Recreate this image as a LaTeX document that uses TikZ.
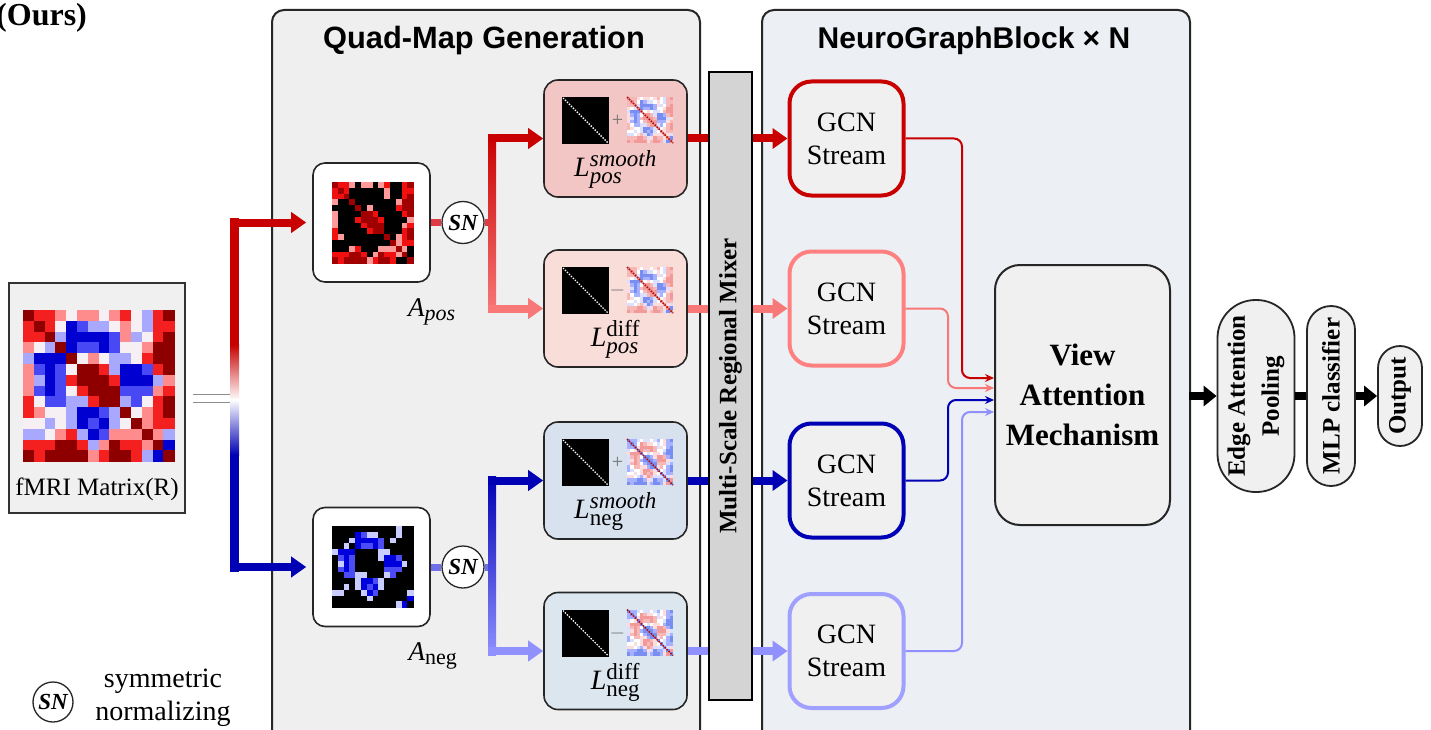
\documentclass[tikz,border=0pt]{standalone}
\usepackage{fix-cm}
\usepackage{fontspec}
\setmainfont{Liberation Serif}
\setsansfont{Liberation Sans}
\usetikzlibrary{arrows.meta}
% larger sub- and superscripts for the map labels
\DeclareMathSizes{27}{27}{22}{17}
\DeclareMathSizes{28}{28}{23}{17}

% stream colours
\definecolor{posdark}{HTML}{C80000}
\definecolor{posmid}{HTML}{E03A44}
\definecolor{poslight}{HTML}{F87878}
\definecolor{negdark}{HTML}{0000B4}
\definecolor{negmid}{HTML}{7070E8}
\definecolor{neglight}{HTML}{9090FF}
\definecolor{gcnposl}{HTML}{FF8080}
\definecolor{gcnnegl}{HTML}{A0A0FF}
% panels and boxes
\definecolor{quadbg}{HTML}{EFEFEF}
\definecolor{ngbbg}{HTML}{ECEFF3}
\definecolor{boxgray}{HTML}{F0F0F0}
\definecolor{mixgray}{HTML}{D4D4D4}
\definecolor{lpsfill}{HTML}{F2C6C4}
\definecolor{lpdfill}{HTML}{F8DDD8}
\definecolor{lnsfill}{HTML}{D8E2EE}
\definecolor{lndfill}{HTML}{DBE6EF}
\definecolor{diagred}{HTML}{B01010}
% heat-map palettes: a,b,c = strong..weak positive, w = zero, d,e,f = weak..strong negative
\definecolor{fma}{HTML}{8E0000}\definecolor{fmb}{HTML}{F42020}\definecolor{fmc}{HTML}{FF8C8C}
\definecolor{fmw}{HTML}{F6F0F4}\definecolor{fmd}{HTML}{A8A8FF}\definecolor{fme}{HTML}{4848F4}
\definecolor{fmf}{HTML}{0000D0}
\definecolor{apa}{HTML}{A00000}\definecolor{apb}{HTML}{F01010}\definecolor{apc}{HTML}{FF9A9A}
\definecolor{apw}{HTML}{000000}\definecolor{apd}{HTML}{000000}\definecolor{ape}{HTML}{000000}
\definecolor{apf}{HTML}{000000}
\definecolor{ana}{HTML}{000000}\definecolor{anb}{HTML}{000000}\definecolor{anc}{HTML}{000000}
\definecolor{anw}{HTML}{000000}\definecolor{and}{HTML}{C8CCFF}\definecolor{ane}{HTML}{4C4CF4}
\definecolor{anf}{HTML}{0000DC}
\definecolor{lpa}{HTML}{F29A9A}\definecolor{lpb}{HTML}{F7B8B8}\definecolor{lpc}{HTML}{FCDCDC}
\definecolor{lpw}{HTML}{FFFFFF}\definecolor{lpd}{HTML}{DCE0FF}\definecolor{lpe}{HTML}{A6B2FF}
\definecolor{lpf}{HTML}{7A8EF2}
\definecolor{lna}{HTML}{7A8EF2}\definecolor{lnb}{HTML}{A6B2FF}\definecolor{lnc}{HTML}{DCE0FF}
\definecolor{lnw}{HTML}{FFFFFF}\definecolor{lnd}{HTML}{FCDCDC}\definecolor{lne}{HTML}{F7B8B8}
\definecolor{lnf}{HTML}{F29A9A}

% 14 x 14 correlation pattern
\def\fmdata{%
{a,b,b,c,w,c,c,w,c,b,w,d,b,a},%
{b,a,b,w,f,e,d,d,w,c,w,d,b,b},%
{b,b,a,d,f,f,f,f,e,c,d,w,b,a},%
{c,w,d,a,f,e,e,f,e,w,w,c,a,a},%
{d,f,f,f,a,w,c,w,d,d,w,b,a,a},%
{c,e,f,e,w,a,a,b,d,f,f,e,b,a},%
{c,d,f,e,b,a,a,a,b,f,f,f,d,c},%
{c,e,f,e,w,b,a,a,a,e,e,e,c,b},%
{b,w,e,e,d,d,b,a,a,d,e,w,b,a},%
{b,c,w,w,d,f,f,e,d,a,w,c,b,a},%
{w,w,d,w,d,f,e,f,d,w,a,c,b,b},%
{d,d,w,c,b,d,f,e,c,c,c,a,c,d},%
{b,b,b,a,a,b,d,c,a,b,b,c,a,f},%
{a,b,a,a,a,a,c,b,a,a,b,d,f,a}}

% palette prefix, left x, top y, cell size
\newcommand\heatgrid[4]{%
  \foreach \hrow [count=\hi from 0] in \fmdata {%
    \foreach \hval [count=\hj from 0] in \hrow {%
      \fill[fill=#1\hval] ({#2+\hj*#4},{#3+\hi*#4}) rectangle ++({#4+0.3},{#4+0.3});
    }%
  }%
}

% contents of a Laplacian box: centre x, centre y, sign, palette, label, name
\newcommand\lcontent[6]{%
  \fill[black] ({#1-53.5},{#2-41.5}) rectangle ++(47,47);
  \draw[white, line width=1.4pt, dash pattern=on 1.4pt off 1.4pt] ({#1-52.5},{#2-40.5}) -- ({#1-7.5},{#2+4.5});
  \node[inner sep=0pt, font=\fontsize{20}{20}\selectfont, text=black!55] (#6-sign) at ({#1+2},{#2-18}) {#3};
  \heatgrid{#4}{#1+11.5}{#2-41.5}{3.29}
  \draw[diagred, line width=1.6pt, dash pattern=on 1.6pt off 1.2pt] ({#1+11.5},{#2-41.5}) -- ({#1+57.5},{#2+4.5});
  \node[inner sep=0pt, font=\fontsize{28}{28}\selectfont] (#6-lab) at ({#1},{#2+31}) {#5};
}

\tikzset{
  panel/.style={draw=black!85, line width=2pt, rounded corners=12pt},
  matbox/.style={draw=black!85, line width=1.6pt, fill=white, rounded corners=12pt,
    minimum width=117pt, minimum height=119pt, inner sep=0pt},
  lbox/.style={draw=black!85, line width=1.6pt, rounded corners=14pt,
    minimum width=143pt, minimum height=117pt, inner sep=0pt},
  gcn/.style={line width=4pt, rounded corners=22pt, fill=boxgray, minimum width=114pt,
    minimum height=114pt, align=center, inner sep=0pt, font=\fontsize{28}{33}\selectfont},
  snode/.style={circle, draw=black!85, line width=1.3pt, fill=white, minimum size=42pt,
    inner sep=0pt, font=\fontsize{23}{23}\selectfont\bfseries\itshape},
  pill/.style={draw=black!85, line width=1.8pt, fill=boxgray, rotate=90, align=center,
    inner sep=0pt, font=\fontsize{25}{34}\selectfont\bfseries},
  bigarrow/.style={line width=8pt, -{Triangle[width=20pt,length=15pt]}},
  blackarrow/.style={line width=8pt, black, -{Triangle[width=20pt,length=13pt]}},
  feed/.style={line width=2pt, rounded corners=8pt, -{Stealth[length=9pt,width=8pt]}},
}

\begin{document}
\begin{tikzpicture}[x=1pt,y=-1pt]
\useasboundingbox (0,0) rectangle (1431,730);
\clip (0,0) rectangle (1431,730);
\fill[white] (0,0) rectangle (1431,730);

% ---------- panels ----------
\draw[panel, fill=quadbg] (272,10) rectangle (700,760);
\draw[panel, fill=ngbbg] (762,10) rectangle (1190,760);
\node[font=\sffamily\bfseries\fontsize{30.8}{31}\selectfont] (quadtitle) at (484,41) {Quad-Map Generation};
\node[font=\sffamily\bfseries\fontsize{30}{31}\selectfont] (ngbtitle) at (974,41) {NeuroGraphBlock × N};
\node[anchor=base west, inner sep=0pt, font=\fontsize{32}{32}\selectfont\bfseries] (ours) at (-4,26) {(Ours)};

% ---------- input matrix ----------
\node[draw=black!80, line width=2pt, fill=boxgray, minimum width=176pt, minimum height=230pt] (fmri) at (97,398) {};
\heatgrid{fm}{23}{310}{10.8}
\node[font=\fontsize{25}{25}\selectfont] (fmrilab) at (97,489) {fMRI Matrix(R)};

% ---------- adjacency maps ----------
\node[matbox] (apos) at (371.5,222.5) {};
\heatgrid{ap}{332}{182}{5.8}
\node[inner sep=0pt, font=\fontsize{27}{27}\selectfont] (aposlab) at (432,312) {$\mathit{A}_{\mathit{pos}}$};
\node[matbox] (aneg) at (371.5,567) {};
\heatgrid{an}{332}{526}{5.8}
\node[inner sep=0pt, font=\fontsize{27}{27}\selectfont] (aneglab) at (433,656) {$\mathit{A}_{\mathrm{neg}}$};
\node[snode] (snp) at (463,222.5) {SN};
\node[snode] (snn) at (463,567) {SN};

% ---------- Laplacian maps ----------
\node[lbox, fill=lpsfill] (lps) at (615.5,138.5) {};
\lcontent{615.5}{138.5}{+}{lp}{$\mathit{L}^{\mathit{smooth}}_{\mathit{pos}}$}{lps}
\node[lbox, fill=lpdfill] (lpd) at (615.5,308.5) {};
\lcontent{615.5}{308.5}{$-$}{lp}{$\mathit{L}^{\mathrm{diff}}_{\mathit{pos}}$}{lpd}
\node[lbox, fill=lnsfill] (lns) at (615.5,480.5) {};
\lcontent{615.5}{480.5}{+}{ln}{$\mathit{L}^{\mathit{smooth}}_{\mathrm{neg}}$}{lns}
\node[lbox, fill=lndfill] (lnd) at (615.5,651) {};
\lcontent{615.5}{651}{$-$}{ln}{$\mathit{L}^{\mathrm{diff}}_{\mathrm{neg}}$}{lnd}

% ---------- GCN streams and fusion ----------
\node[gcn, draw=posdark] (g1) at (846.5,138.5) {GCN\\Stream};
\node[gcn, draw=gcnposl] (g2) at (846.5,308.5) {GCN\\Stream};
\node[gcn, draw=negdark] (g3) at (846.5,480.5) {GCN\\Stream};
\node[gcn, draw=gcnnegl] (g4) at (846.5,651) {GCN\\Stream};
\node[draw=black!85, line width=2pt, rounded corners=25pt, fill=boxgray, minimum width=175pt,
  minimum height=260pt, align=center, font=\fontsize{31}{40}\selectfont\bfseries] (view) at (1082.5,395) {View\\Attention\\Mechanism};

% ---------- readout ----------
\node[pill, minimum width=192pt, minimum height=77pt, rounded corners=38pt] (eap) at (1256,396) {Edge Attention\\Pooling};
\node[pill, minimum width=180pt, minimum height=48pt, rounded corners=24pt] (mlp) at (1331,396) {MLP classifier};
\node[pill, minimum width=100pt, minimum height=44pt, rounded corners=22pt] (out) at (1400,396) {Output};

% ---------- legend ----------
\node[snode, minimum size=40pt] (snlegend) at (53,702) {SN};
\node[font=\fontsize{28}{33}\selectfont, align=center] (legtext) at (163,698) {symmetric\\normalizing};

% ---------- split of the input into positive / negative parts ----------
\coordinate (fork) at (230,398);
\coordinate (ftop) at (230,222.5);
\coordinate (fbot) at (230,567);
\draw[draw=black!45, line width=1pt, double=white, double distance=7pt, shorten <=7pt] (fmri.east) -- (fork);
\fill[posdark] (230,218) rectangle (239,345);
\shade[top color=posdark, bottom color=white] (230,344.5) rectangle (239,400);
\shade[top color=white, bottom color=negdark] (230,399.5) rectangle (239,455);
\fill[negdark] (230,454.5) rectangle (239,571.5);
\draw[bigarrow, posdark, shorten >=6pt] (ftop) -- (apos.west);
\draw[bigarrow, negdark, shorten >=6pt] (fbot) -- (aneg.west);

% ---------- normalisation and branching ----------
\draw[line width=7pt, posmid] (apos.east) -- (snp.west);
\draw[line width=7pt, posmid] (snp.east) -- (492,222.5);
\shade[top color=posdark, bottom color=poslight] (488,134.5) rectangle (496,312.5);
\coordinate (bps) at (488,138.5);
\coordinate (bpd) at (488,308.5);
\draw[bigarrow, posdark] (bps) -- (lps.west);
\draw[bigarrow, poslight] (bpd) -- (lpd.west);

\draw[line width=7pt, negmid] (aneg.east) -- (snn.west);
\draw[line width=7pt, negmid] (snn.east) -- (492,567);
\shade[top color=negdark, bottom color=neglight] (488,476.5) rectangle (496,655);
\coordinate (bns) at (488,480.5);
\coordinate (bnd) at (488,651);
\draw[bigarrow, negdark] (bns) -- (lns.west);
\draw[bigarrow, neglight] (bnd) -- (lnd.west);

% ---------- Laplacians to GCN streams ----------
\draw[bigarrow, posdark] (lps.east) -- (g1.west);
\draw[bigarrow, poslight] (lpd.east) -- (g2.west);
\draw[bigarrow, negdark] (lns.east) -- (g3.west);
\draw[bigarrow, neglight] (lnd.east) -- (g4.west);

\node[draw=black, line width=1.5pt, fill=mixgray, rotate=90, minimum width=628pt, minimum height=43pt,
  inner sep=0pt, font=\fontsize{25}{25}\selectfont\bfseries] (mixer) at (730.5,386) {Multi-Scale Regional Mixer};

% ---------- streams into view attention ----------
\coordinate (in1) at (view.west |- 0,378);
\coordinate (in2) at (view.west |- 0,388);
\coordinate (in3) at (view.west |- 0,400);
\coordinate (in4) at (view.west |- 0,412);
\draw[feed, posdark] (g1.east) -| (962,378) -- (in1);
\draw[feed, poslight] (g2.east) -| (948,388) -- (in2);
\draw[feed, negdark] (g3.east) -| (948,400) -- (in3);
\draw[feed, neglight] (g4.east) -| (962,412) -- (in4);

% ---------- readout chain ----------
\coordinate (pe) at (1189,396);
\draw[blackarrow] (pe) -- (eap);
\draw[line width=8pt, black] (eap) -- (mlp);
\draw[blackarrow] (mlp) -- (out);
\end{tikzpicture}
\end{document}
